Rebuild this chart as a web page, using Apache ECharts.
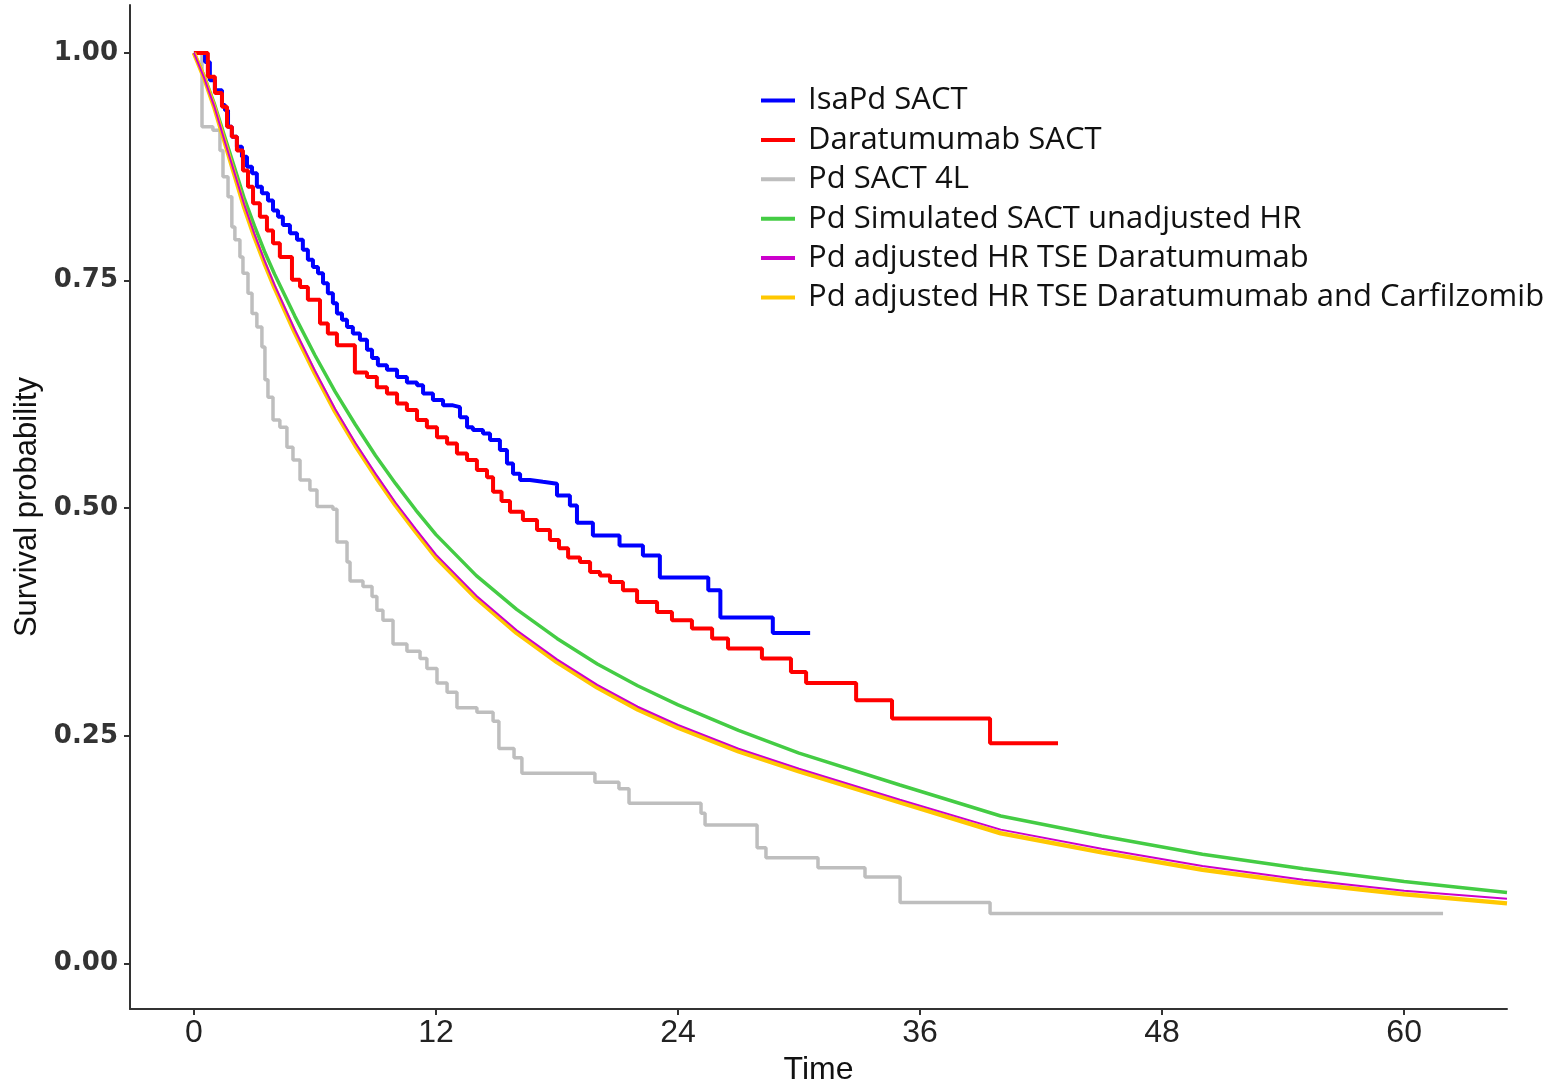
<!DOCTYPE html>
<html>
<head>
<meta charset="utf-8">
<script src="https://cdn.jsdelivr.net/npm/echarts@6/dist/echarts.min.js"></script>
<style>
html,body{margin:0;padding:0;background:#fff;}
#chart{width:1558px;height:1082px;}
</style>
</head>
<body>
<div id="chart"></div>
<script>
// ---- Data ----
const seriesNames = [
  'IsaPd SACT',
  'Daratumumab SACT',
  'Pd SACT 4L',
  'Pd Simulated SACT unadjusted HR',
  'Pd adjusted HR TSE Daratumumab',
  'Pd adjusted HR TSE Daratumumab and Carfilzomib'
];
const xTickValues = [0, 12, 24, 36, 48, 60];
const yTickValues = [0, 0.25, 0.5, 0.75, 1];

// IsaPd SACT (Kaplan-Meier steps)
const isapdTime = [0,0.55,0.79,1.04,1.39,1.54,1.69,1.88,2.13,2.38,2.63,2.88,3.12,3.37,3.67,3.92,4.17,4.41,4.76,5.11,5.4,5.65,5.9,6.15,6.4,6.64,6.89,7.09,7.34,7.59,7.88,8.23,8.58,8.83,9.12,9.57,10.07,10.56,11.06,11.36,11.85,12.35,12.84,13.19,13.54,13.83,14.33,14.68,15.17,15.52,15.82,16.17,16.66,17.3,18.0,18.64,18.99,19.78,21.1,22.26,23.1,25.5,26.1,28.7,30.55];
const isapdSurv = [1,0.99,0.97,0.959,0.943,0.937,0.919,0.908,0.897,0.886,0.875,0.868,0.853,0.846,0.838,0.827,0.82,0.811,0.802,0.795,0.784,0.773,0.765,0.758,0.747,0.736,0.725,0.714,0.707,0.699,0.692,0.685,0.674,0.665,0.657,0.652,0.644,0.638,0.635,0.626,0.619,0.613,0.611,0.6,0.589,0.586,0.582,0.575,0.564,0.549,0.538,0.531,0.529,0.527,0.514,0.503,0.484,0.47,0.459,0.448,0.424,0.41,0.38,0.363,0.363];

// Daratumumab SACT
const daraTime = [0,0.69,1.04,1.39,1.64,1.88,2.13,2.43,2.68,2.93,3.27,3.62,3.92,4.26,4.86,5.26,5.65,6.25,6.64,7.09,7.98,8.58,9.07,9.57,10.07,10.56,11.06,11.55,12.05,12.55,13.04,13.54,14.03,14.53,14.83,15.25,15.67,16.31,17.01,17.65,18.1,18.55,19.14,19.64,20.13,20.63,21.27,21.97,22.96,23.7,24.69,25.69,26.48,28.16,29.6,30.35,32.83,34.61,39.47,42.84];
const daraSurv = [1,0.974,0.956,0.941,0.919,0.908,0.893,0.871,0.853,0.835,0.82,0.805,0.791,0.776,0.751,0.743,0.729,0.703,0.692,0.679,0.649,0.644,0.633,0.626,0.615,0.608,0.597,0.589,0.578,0.571,0.56,0.553,0.542,0.534,0.518,0.508,0.496,0.487,0.476,0.465,0.456,0.446,0.441,0.43,0.426,0.419,0.41,0.397,0.386,0.377,0.368,0.357,0.346,0.335,0.32,0.308,0.289,0.269,0.242,0.242];

// Pd SACT 4L
const pdTime = [0,0.4,0.94,1.29,1.44,1.69,1.88,2.03,2.28,2.43,2.68,2.88,3.12,3.37,3.52,3.67,3.92,4.26,4.61,4.91,5.26,5.75,6.1,6.89,7.09,7.59,7.74,8.38,8.83,9.07,9.37,9.87,10.56,11.21,11.55,12.05,12.55,13.04,14.03,14.83,15.12,15.87,16.26,19.88,21.07,21.57,25.14,25.34,27.92,28.36,30.94,33.27,35.01,39.47,61.93];
const pdSurv = [1,0.919,0.915,0.893,0.864,0.842,0.809,0.795,0.776,0.758,0.736,0.714,0.699,0.677,0.641,0.622,0.597,0.589,0.567,0.553,0.531,0.52,0.502,0.499,0.463,0.441,0.42,0.414,0.403,0.388,0.377,0.351,0.343,0.335,0.324,0.308,0.298,0.281,0.276,0.266,0.236,0.226,0.209,0.199,0.192,0.176,0.165,0.152,0.127,0.116,0.105,0.095,0.067,0.055,0.055];

// Modelled curves
const modelTime = [0,0.5,1,1.5,2,2.5,3,3.5,4,5,6,7,8,9,10,11,12,14,16,18,20,22,24,27,30,35,40,45,50,55,60,65.1];
const simUnadjSurv = [1,0.975,0.945,0.91,0.875,0.84,0.81,0.782,0.757,0.711,0.668,0.628,0.592,0.558,0.527,0.498,0.471,0.426,0.389,0.357,0.329,0.305,0.284,0.256,0.231,0.196,0.162,0.14,0.12,0.104,0.09,0.078];
const adjDaraSurv = [1,0.973,0.942,0.905,0.869,0.833,0.801,0.772,0.745,0.696,0.651,0.609,0.572,0.538,0.506,0.477,0.449,0.404,0.366,0.334,0.306,0.282,0.262,0.236,0.214,0.18,0.147,0.126,0.107,0.092,0.08,0.071];
const adjDaraCarfSurv = [1,0.973,0.941,0.904,0.867,0.83,0.798,0.769,0.742,0.693,0.648,0.606,0.569,0.535,0.503,0.474,0.446,0.401,0.363,0.331,0.303,0.279,0.259,0.233,0.211,0.177,0.143,0.122,0.103,0.088,0.076,0.066];

const colors = ['#0000ff', '#ff0000', '#bebebe', '#44cc44', '#cc00cc', '#ffc800'];

function pairs(t, s) { return t.map((v, i) => [v, s[i]]); }

const chart = echarts.init(document.getElementById('chart'), null, {renderer: 'canvas'});

const axisColor = '#333333';

const option = {
  animation: false,
  backgroundColor: '#ffffff',
  grid: { left: 130, right: 51, top: 5, bottom: 73, containLabel: false, outerBoundsMode: 'none' },
  legend: {
    orient: 'vertical',
    left: 756,
    top: 80,
    itemWidth: 34,
    itemHeight: 4,
    itemGap: 8.4,
    icon: 'rect',
    data: seriesNames,
    textStyle: { fontFamily: 'Open Sans', fontSize: 31, color: '#111', padding: [0, 0, 0, 8] }
  },
  xAxis: {
    type: 'value',
    min: -3.17,
    max: 65.1,
    name: 'Time',
    nameLocation: 'middle',
    nameGap: 38,
    nameTextStyle: { fontFamily: 'Liberation Sans', fontSize: 32, color: '#111' },
    axisLine: { show: true, onZero: false, lineStyle: { color: axisColor, width: 2 } },
    axisTick: { show: true, customValues: xTickValues, length: 6, lineStyle: { color: axisColor, width: 2 } },
    axisLabel: { customValues: xTickValues, margin: 8, fontFamily: 'Liberation Sans Narrow, Liberation Sans', fontSize: 32, color: '#222' },
    splitLine: { show: false }
  },
  yAxis: {
    type: 'value',
    min: -0.05,
    max: 1.0527,
    name: 'Survival probability',
    nameLocation: 'middle',
    nameGap: 86,
    nameRotate: 90,
    nameTextStyle: { fontFamily: 'Liberation Sans', fontSize: 31, color: '#111' },
    axisLine: { show: true, onZero: false, lineStyle: { color: axisColor, width: 2 } },
    axisTick: { show: true, customValues: yTickValues, length: 6, lineStyle: { color: axisColor, width: 2 } },
    axisLabel: {
      customValues: yTickValues, margin: 12,
      fontFamily: 'DejaVu Sans', fontWeight: 'bold', fontSize: 26, color: '#333',
      formatter: v => v.toFixed(2)
    },
    splitLine: { show: false }
  },
  series: [
    { name: seriesNames[2], type: 'line', step: 'end', showSymbol: false, symbol: 'none', data: pairs(pdTime, pdSurv), lineStyle: { color: colors[2], width: 3.5 }, itemStyle: { color: colors[2] }, z: 2 },
    { name: seriesNames[0], type: 'line', step: 'end', showSymbol: false, symbol: 'none', data: pairs(isapdTime, isapdSurv), lineStyle: { color: colors[0], width: 4 }, itemStyle: { color: colors[0] }, z: 3 },
    { name: seriesNames[1], type: 'line', step: 'end', showSymbol: false, symbol: 'none', data: pairs(daraTime, daraSurv), lineStyle: { color: colors[1], width: 4 }, itemStyle: { color: colors[1] }, z: 4 },
    { name: seriesNames[3], type: 'line', smooth: false, showSymbol: false, symbol: 'none', data: pairs(modelTime, simUnadjSurv), lineStyle: { color: colors[3], width: 3.5 }, itemStyle: { color: colors[3] }, z: 5 },
    { name: seriesNames[5], type: 'line', smooth: false, showSymbol: false, symbol: 'none', data: pairs(modelTime, adjDaraCarfSurv), lineStyle: { color: colors[5], width: 4.5 }, itemStyle: { color: colors[5] }, z: 6 },
    { name: seriesNames[4], type: 'line', smooth: false, showSymbol: false, symbol: 'none', data: pairs(modelTime, adjDaraSurv), lineStyle: { color: colors[4], width: 2 }, itemStyle: { color: colors[4] }, z: 7 }
  ]
};
chart.setOption(option);
</script>
</body>
</html>
